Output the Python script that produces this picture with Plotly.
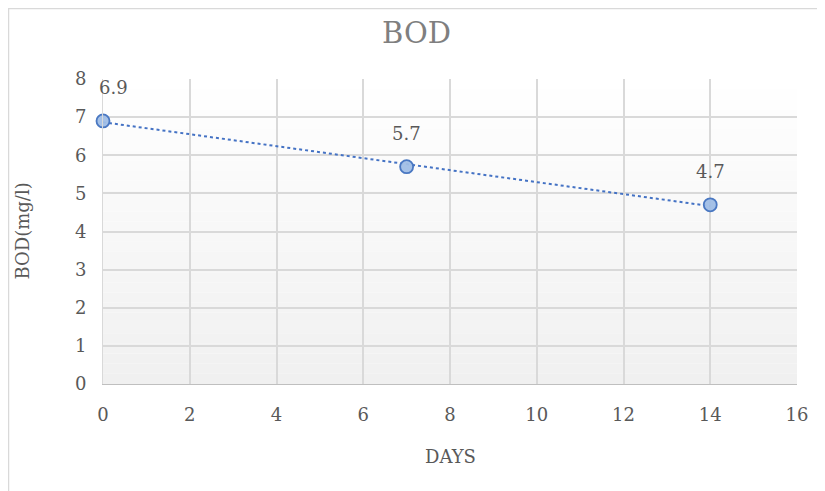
import numpy as np
import plotly.graph_objects as go

days = [0, 7, 14]
bod = [6.9, 5.7, 4.7]
labels = ["6.9", "5.7", "4.7"]
x_ticks = [0, 2, 4, 6, 8, 10, 12, 14, 16]
y_ticks = [0, 1, 2, 3, 4, 5, 6, 7, 8]

slope, intercept = np.polyfit(days, bod, 1)
trend_x = [days[0], days[-1]]
trend_y = [intercept + slope * v for v in trend_x]

FONT = "DejaVu Serif"
TXT = "#595959"

# figure geometry (page has an 8px body margin)
W, H = 817, 483
L, T, R, B = 95, 71, 28, 107
PW, PH = W - L - R, H - T - B

fig = go.Figure()

fig.add_trace(go.Scatter(x=trend_x, y=trend_y, mode="lines",
                         line=dict(color="#4472c4", width=2, dash="dot"),
                         hoverinfo="skip", showlegend=False))
fig.add_trace(go.Scatter(x=days, y=bod, mode="markers",
                         marker=dict(size=13, color="rgba(160,190,230,0.95)",
                                     line=dict(color="#4a78c2", width=1.8)),
                         showlegend=False, cliponaxis=False))

shifts = [10, 0, 0]
for xv, yv, t, xs in zip(days, bod, labels, shifts):
    fig.add_annotation(x=xv, y=yv, text=t, showarrow=False, xshift=xs, yshift=33,
                       font=dict(family=FONT, size=18, color=TXT))

# axis titles
fig.add_annotation(xref="paper", yref="paper", x=(14 - L) / PW, y=0.5, text="BOD(mg/l)",
                   textangle=-90, showarrow=False, xanchor="center", yanchor="middle",
                   font=dict(family=FONT, size=18, color=TXT))
fig.add_annotation(xref="paper", yref="paper", x=0.5, y=(T + PH - 448) / PH, text="DAYS",
                   showarrow=False, xanchor="center", yanchor="middle",
                   font=dict(family=FONT, size=18, color=TXT))

# gradient background
n = 30
for i in range(n):
    t = i / (n - 1)
    c = int(round(255 - 15 * t))
    fig.add_shape(type="rect", xref="x domain", yref="y domain",
                  x0=0, x1=1, y0=1 - (i + 1) / n, y1=1 - i / n,
                  fillcolor=f"rgb({c},{c},{c})", line=dict(width=0), layer="below")

# chart border (right and bottom edges lie outside the picture)
fig.add_shape(type="rect", xref="paper", yref="paper",
              x0=(0.5 - L) / PW, x1=(W + 10 - L) / PW,
              y0=(T + PH - H - 10) / PH, y1=(T + PH - 0.5) / PH,
              line=dict(color="#d9d9d9", width=1.5), fillcolor="rgba(0,0,0,0)", layer="below")

fig.update_layout(
    width=W, height=H,
    margin=dict(l=L, r=R, t=T, b=B),
    paper_bgcolor="white", plot_bgcolor="white",
    title=dict(text="BOD", x=0.5, xanchor="center", y=1 - 25 / H, yanchor="middle",
               font=dict(family=FONT, size=29, color="#7f7f7f")),
    xaxis=dict(range=[0, 16], tickvals=x_ticks, showgrid=True, gridcolor="#d9d9d9",
               gridwidth=1.5, zeroline=False, showline=True, linecolor="#bfbfbf",
               ticks="", ticklabelstandoff=14,
               tickfont=dict(family=FONT, size=18, color=TXT)),
    yaxis=dict(range=[0, 8], tickvals=y_ticks, showgrid=True, gridcolor="#d9d9d9",
               gridwidth=1.5, zeroline=False, showline=True, linecolor="#d9d9d9",
               ticks="", ticklabelstandoff=12,
               tickfont=dict(family=FONT, size=18, color=TXT)),
)

fig.write_html("out.html")
